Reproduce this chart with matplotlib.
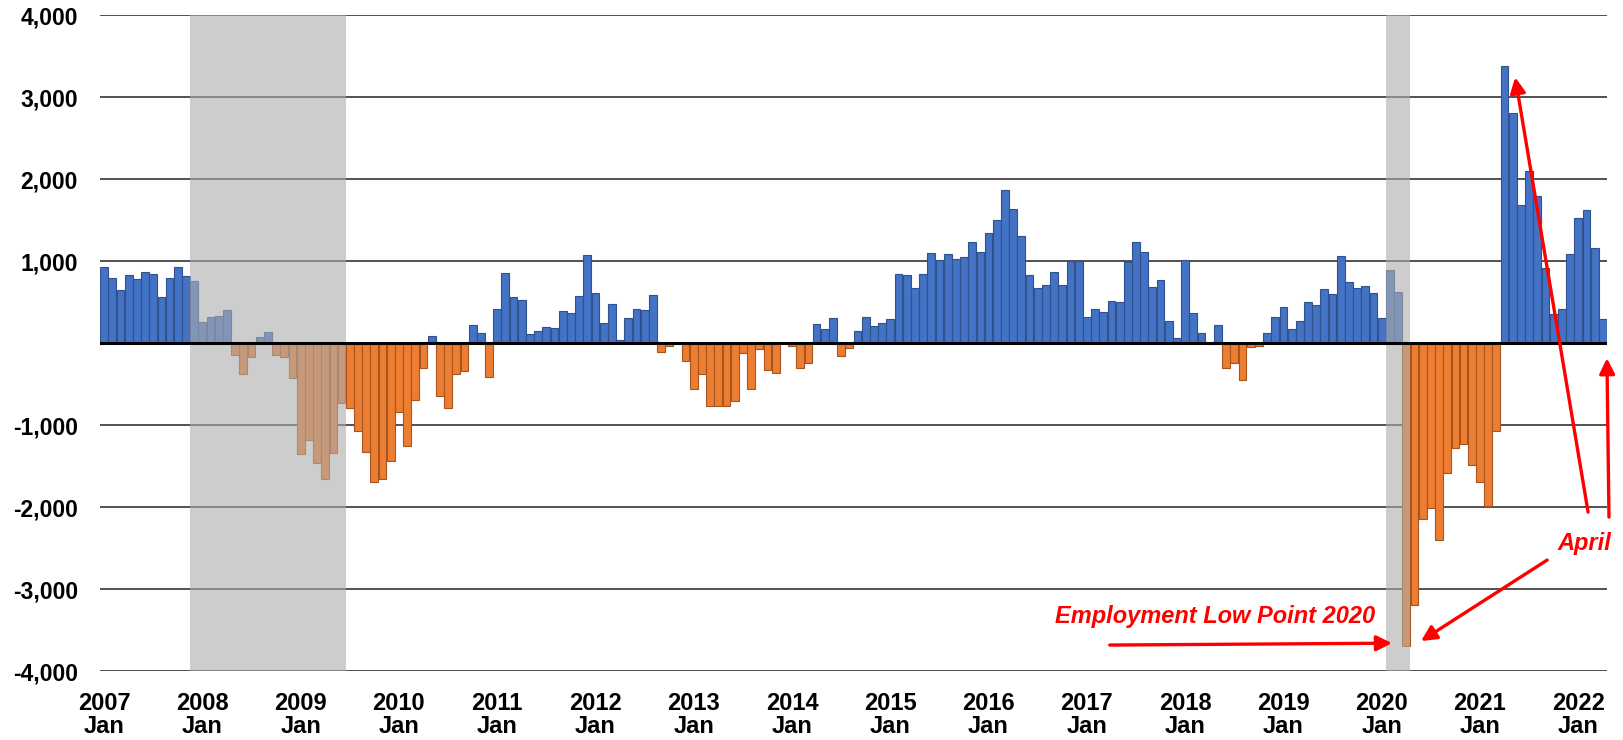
import matplotlib
matplotlib.use("Agg")
import matplotlib.pyplot as plt
from matplotlib.ticker import FixedLocator, FuncFormatter

plt.rcParams['font.family'] = ['Liberation Sans', 'DejaVu Sans']

# monthly values, Jan 2007 .. Apr 2022
y2007 = [930, 791, 645, 836, 780, 875, 847, 561, 796, 925, 824, 757]
y2008 = [264, 314, 331, 404, -146, -381, -174, 79, 135, -140, -174, -421]
y2009 = [-1346, -1183, -1458, -1655, -1340, -729, -796, -1071, -1324, -1688, -1660, -1436]
y2010 = [-841, -1256, -695, -303, 90, -639, -785, -381, -336, 219, 123, -409]
y2011 = [421, 858, 566, 533, 107, 151, 196, 185, 387, 365, 572, 1071]
y2012 = [611, 252, 477, 45, 308, 415, 404, 583, -112, -34, -5, -213]
y2013 = [-561, -381, -763, -768, -768, -707, -123, -561, -67, -325, -365, 0]
y2014 = [-28, -303, -236, 236, 168, 303, -157, -56, 151, 320, 213, 241]
y2015 = [292, 841, 830, 673, 841, 1105, 1010, 1094, 1026, 1049, 1234, 1110]
y2016 = [1340, 1509, 1873, 1638, 1307, 836, 679, 712, 875, 707, 998, 998]
y2017 = [325, 415, 381, 510, 499, 993, 1234, 1110, 690, 774, 269, 67]
y2018 = [1010, 370, 130, -15, 224, -297, -241, -454, -45, -28, 129, 325]
y2019 = [443, 179, 269, 505, 471, 667, 595, 1060, 746, 673, 695, 611]
y2020 = [308, 892, 623, -3690, -3197, -2150, -2014, -2400, -1587, -1281, -1235, -1489]
y2021 = [-1696, -1985, -1073, 3381, 2810, 1691, 2100, 1795, 912, 352, 421, 1091]
y2022 = [1523, 1627, 1166, 300]

years = [2007, 2008, 2009, 2010, 2011, 2012, 2013, 2014,
         2015, 2016, 2017, 2018, 2019, 2020, 2021, 2022]
yticks = [4000, 3000, 2000, 1000, 0, -1000, -2000, -3000, -4000]

# recessions as (first month index, last month index)
recessions = [(11, 29), (157, 159)]

BLUE, BLUE_EDGE = "#4472C4", "#2F528F"
ORANGE, ORANGE_EDGE = "#ED7D31", "#A5551F"
RED = "#FF0000"


def main():
    values = (y2007 + y2008 + y2009 + y2010 + y2011 + y2012 + y2013 + y2014
              + y2015 + y2016 + y2017 + y2018 + y2019 + y2020 + y2021 + y2022)
    x = list(range(len(values)))
    face = [BLUE if v >= 0 else ORANGE for v in values]
    edge = [BLUE_EDGE if v >= 0 else ORANGE_EDGE for v in values]

    fig = plt.figure(figsize=(16.23, 7.4), dpi=100)
    ax = fig.add_axes([0.0616, 0.0932, 0.9285, 0.886])

    ax.bar(x, values, width=0.95, color=face, edgecolor=edge, linewidth=0.8, zorder=2)

    # 灰色阴影盖在柱子上面
    for a, b in recessions:
        ax.axvspan(a - 0.5, b + 0.5, color="#ADADAD", alpha=0.6, lw=0, zorder=3)

    for t in yticks:
        if t != 0:
            ax.axhline(t, color="#222222", lw=1.1, zorder=1)
    ax.axhline(0, color="black", lw=2.2, zorder=4)

    ax.set_xlim(-0.5, len(values) - 0.5)
    ax.set_ylim(-4000, 4000)
    for s in ax.spines.values():
        s.set_visible(False)

    ax.yaxis.set_major_locator(FixedLocator(yticks))
    ax.yaxis.set_major_formatter(FuncFormatter(lambda v, p: "" if v == 0 else f"{int(v):,}"))
    ax.set_xticks([12 * i for i in range(len(years))])
    ax.set_xticklabels([f"{y}\nJan" for y in years])
    ax.tick_params(axis="y", length=0, pad=16, labelsize=16.5)
    ax.tick_params(axis="x", length=0, pad=15, labelsize=17)
    for lab in ax.get_xticklabels() + ax.get_yticklabels():
        lab.set_fontweight("bold")
    for lab in ax.get_xticklabels():
        lab.set_linespacing(1.0)

    arrow = dict(arrowstyle="-|>", color=RED, lw=2.4, mutation_scale=23,
                 shrinkA=0, shrinkB=0)
    ax.text(135.6, -3340, "Employment Low Point 2020", color=RED, fontsize=17,
            fontweight="bold", fontstyle="italic", ha="center", va="center", zorder=6)
    ax.text(180.8, -2440, "April", color=RED, fontsize=17,
            fontweight="bold", fontstyle="italic", ha="center", va="center", zorder=6)
    ax.annotate("", xy=(157.25, -3660), xytext=(122.8, -3683), arrowprops=arrow,
                annotation_clip=False, zorder=6)
    ax.annotate("", xy=(160.8, -3634), xytext=(176.2, -2646), arrowprops=arrow,
                annotation_clip=False, zorder=6)
    ax.annotate("", xy=(172.3, 3244), xytext=(181.2, -2061), arrowprops=arrow,
                annotation_clip=False, zorder=6)
    ax.annotate("", xy=(183.5, -183), xytext=(183.75, -2122), arrowprops=arrow,
                annotation_clip=False, zorder=6)

    fig.savefig("out.png", dpi=100)
    plt.close(fig)


if __name__ == "__main__":
    main()
